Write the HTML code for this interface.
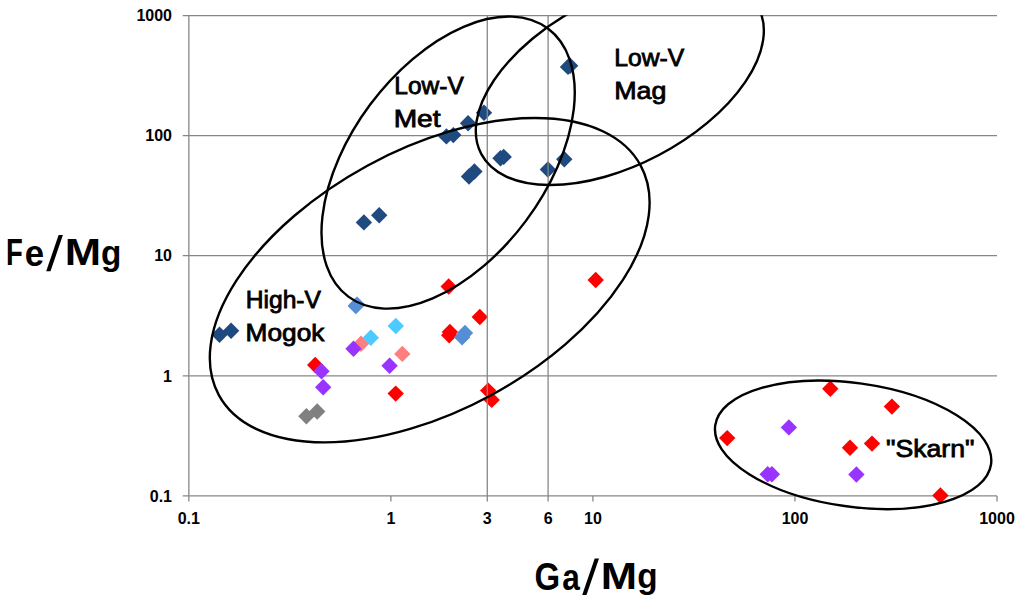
<!DOCTYPE html>
<html><head><meta charset="utf-8"><style>
html,body{margin:0;padding:0;background:#fff;}
body{width:1024px;height:611px;overflow:hidden;}
svg{display:block;}
text{font-family:"Liberation Sans",sans-serif;fill:#000;}
.tk{font-size:16px;font-weight:bold;}
.lb{font-size:23.5px;stroke:#000;stroke-width:0.8px;}
.ax{font-size:36px;font-weight:bold;}
</style></head><body>
<svg width="1024" height="611" viewBox="0 0 1024 611">
<defs><clipPath id="pc"><rect x="0" y="15.2" width="1024" height="600"/></clipPath></defs>
<line x1="182.7" y1="15.7" x2="997.0" y2="15.7" stroke="#878787" stroke-width="1.3"/>
<line x1="182.7" y1="135.7" x2="997.0" y2="135.7" stroke="#878787" stroke-width="1.3"/>
<line x1="182.7" y1="255.7" x2="997.0" y2="255.7" stroke="#878787" stroke-width="1.3"/>
<line x1="182.7" y1="375.8" x2="997.0" y2="375.8" stroke="#878787" stroke-width="1.3"/>
<line x1="182.7" y1="495.9" x2="997.0" y2="495.9" stroke="#878787" stroke-width="1.3"/>
<line x1="188.85" y1="15.7" x2="188.85" y2="501.6" stroke="#878787" stroke-width="1.3"/>
<line x1="390.89" y1="495.9" x2="390.89" y2="501.6" stroke="#878787" stroke-width="1.3"/>
<line x1="592.92" y1="495.9" x2="592.92" y2="501.6" stroke="#878787" stroke-width="1.3"/>
<line x1="794.96" y1="495.9" x2="794.96" y2="501.6" stroke="#878787" stroke-width="1.3"/>
<line x1="997.00" y1="495.9" x2="997.00" y2="501.6" stroke="#878787" stroke-width="1.3"/>
<polygon points="568.00,58.70 576.20,66.90 568.00,75.10 559.80,66.90" fill="#1F4A7F"/>
<polygon points="570.10,57.60 578.30,65.80 570.10,74.00 561.90,65.80" fill="#1F4A7F"/>
<polygon points="484.00,104.60 492.20,112.80 484.00,121.00 475.80,112.80" fill="#1F4A7F"/>
<polygon points="468.10,115.10 476.30,123.30 468.10,131.50 459.90,123.30" fill="#1F4A7F"/>
<polygon points="446.40,128.20 454.60,136.40 446.40,144.60 438.20,136.40" fill="#1F4A7F"/>
<polygon points="453.30,126.90 461.50,135.10 453.30,143.30 445.10,135.10" fill="#1F4A7F"/>
<polygon points="500.50,150.00 508.70,158.20 500.50,166.40 492.30,158.20" fill="#1F4A7F"/>
<polygon points="503.70,148.70 511.90,156.90 503.70,165.10 495.50,156.90" fill="#1F4A7F"/>
<polygon points="469.00,168.30 477.20,176.50 469.00,184.70 460.80,176.50" fill="#1F4A7F"/>
<polygon points="474.40,163.30 482.60,171.50 474.40,179.70 466.20,171.50" fill="#1F4A7F"/>
<polygon points="547.90,161.30 556.10,169.50 547.90,177.70 539.70,169.50" fill="#1F4A7F"/>
<polygon points="564.30,151.10 572.50,159.30 564.30,167.50 556.10,159.30" fill="#1F4A7F"/>
<polygon points="363.90,214.20 372.10,222.40 363.90,230.60 355.70,222.40" fill="#1F4A7F"/>
<polygon points="379.20,207.00 387.40,215.20 379.20,223.40 371.00,215.20" fill="#1F4A7F"/>
<polygon points="219.50,326.60 227.70,334.80 219.50,343.00 211.30,334.80" fill="#1F4A7F"/>
<polygon points="231.10,322.50 239.30,330.70 231.10,338.90 222.90,330.70" fill="#1F4A7F"/>
<polygon points="448.70,278.30 456.90,286.50 448.70,294.70 440.50,286.50" fill="#FF0000"/>
<polygon points="595.70,271.80 603.90,280.00 595.70,288.20 587.50,280.00" fill="#FF0000"/>
<polygon points="479.80,308.80 488.00,317.00 479.80,325.20 471.60,317.00" fill="#FF0000"/>
<polygon points="449.90,323.70 458.10,331.90 449.90,340.10 441.70,331.90" fill="#FF0000"/>
<polygon points="449.20,327.10 457.40,335.30 449.20,343.50 441.00,335.30" fill="#FF0000"/>
<polygon points="315.20,356.80 323.40,365.00 315.20,373.20 307.00,365.00" fill="#FF0000"/>
<polygon points="395.70,385.40 403.90,393.60 395.70,401.80 387.50,393.60" fill="#FF0000"/>
<polygon points="488.20,382.40 496.40,390.60 488.20,398.80 480.00,390.60" fill="#FF0000"/>
<polygon points="491.70,391.70 499.90,399.90 491.70,408.10 483.50,399.90" fill="#FF0000"/>
<polygon points="830.30,380.50 838.50,388.70 830.30,396.90 822.10,388.70" fill="#FF0000"/>
<polygon points="891.90,398.40 900.10,406.60 891.90,414.80 883.70,406.60" fill="#FF0000"/>
<polygon points="727.20,429.90 735.40,438.10 727.20,446.30 719.00,438.10" fill="#FF0000"/>
<polygon points="850.00,439.50 858.20,447.70 850.00,455.90 841.80,447.70" fill="#FF0000"/>
<polygon points="872.00,435.40 880.20,443.60 872.00,451.80 863.80,443.60" fill="#FF0000"/>
<polygon points="940.40,487.30 948.60,495.50 940.40,503.70 932.20,495.50" fill="#FF0000"/>
<polygon points="361.00,335.60 369.20,343.80 361.00,352.00 352.80,343.80" fill="#FF7F7F"/>
<polygon points="402.30,345.70 410.50,353.90 402.30,362.10 394.10,353.90" fill="#FF7F7F"/>
<polygon points="306.40,408.00 314.60,416.20 306.40,424.40 298.20,416.20" fill="#808080"/>
<polygon points="317.20,403.30 325.40,411.50 317.20,419.70 309.00,411.50" fill="#808080"/>
<polygon points="355.80,297.80 364.00,306.00 355.80,314.20 347.60,306.00" fill="#558ED5"/>
<polygon points="357.00,296.40 365.20,304.60 357.00,312.80 348.80,304.60" fill="#558ED5"/>
<polygon points="465.00,324.80 473.20,333.00 465.00,341.20 456.80,333.00" fill="#558ED5"/>
<polygon points="462.10,329.00 470.30,337.20 462.10,345.40 453.90,337.20" fill="#558ED5"/>
<polygon points="395.80,317.80 404.00,326.00 395.80,334.20 387.60,326.00" fill="#4BCBFF"/>
<polygon points="370.80,329.50 379.00,337.70 370.80,345.90 362.60,337.70" fill="#4BCBFF"/>
<polygon points="353.50,340.50 361.70,348.70 353.50,356.90 345.30,348.70" fill="#9933FF"/>
<polygon points="389.60,357.50 397.80,365.70 389.60,373.90 381.40,365.70" fill="#9933FF"/>
<polygon points="321.50,363.00 329.70,371.20 321.50,379.40 313.30,371.20" fill="#9933FF"/>
<polygon points="323.20,379.10 331.40,387.30 323.20,395.50 315.00,387.30" fill="#9933FF"/>
<polygon points="788.90,419.20 797.10,427.40 788.90,435.60 780.70,427.40" fill="#9933FF"/>
<polygon points="767.70,466.10 775.90,474.30 767.70,482.50 759.50,474.30" fill="#9933FF"/>
<polygon points="771.90,466.10 780.10,474.30 771.90,482.50 763.70,474.30" fill="#9933FF"/>
<polygon points="856.40,466.30 864.60,474.50 856.40,482.70 848.20,474.50" fill="#9933FF"/>
<line x1="487.28" y1="15.7" x2="487.28" y2="501.6" stroke="#878787" stroke-width="1.3"/>
<line x1="548.10" y1="15.7" x2="548.10" y2="501.6" stroke="#878787" stroke-width="1.3"/>
<ellipse cx="448.13" cy="162.60" rx="167.12" ry="97.17" transform="rotate(-53.33 448.13 162.60)" fill="none" stroke="#000" stroke-width="2.4"/>
<g clip-path="url(#pc)"><ellipse cx="619.82" cy="80.82" rx="83.92" ry="156.71" transform="rotate(62.19 619.82 80.82)" fill="none" stroke="#000" stroke-width="2.4"/></g>
<ellipse cx="429.71" cy="280.20" rx="130.40" ry="240.12" transform="rotate(61.42 429.71 280.20)" fill="none" stroke="#000" stroke-width="2.4"/>
<ellipse cx="853.14" cy="444.85" rx="139.27" ry="61.81" transform="rotate(8.01 853.14 444.85)" fill="none" stroke="#000" stroke-width="2.4"/>
<text x="172" y="21.4" text-anchor="end" class="tk">1000</text>
<text x="172" y="141.4" text-anchor="end" class="tk">100</text>
<text x="172" y="261.4" text-anchor="end" class="tk">10</text>
<text x="172" y="381.5" text-anchor="end" class="tk">1</text>
<text x="172" y="501.6" text-anchor="end" class="tk">0.1</text>
<text x="188.8" y="524" text-anchor="middle" class="tk">0.1</text>
<text x="390.9" y="524" text-anchor="middle" class="tk">1</text>
<text x="487.3" y="524" text-anchor="middle" class="tk">3</text>
<text x="548.1" y="524" text-anchor="middle" class="tk">6</text>
<text x="592.9" y="524" text-anchor="middle" class="tk">10</text>
<text x="795.0" y="524" text-anchor="middle" class="tk">100</text>
<text x="997.0" y="524" text-anchor="middle" class="tk">1000</text>
<text id="lvmet1" transform="translate(394.34 94.0) scale(1.0424 1)" class="lb">Low-V</text>
<text id="lvmet2" transform="translate(393.70 126.8) scale(1.1974 1)" class="lb">Met</text>
<text id="lvmag1" transform="translate(614.34 66.4) scale(1.0500 1)" class="lb">Low-V</text>
<text id="lvmag2" transform="translate(614.22 99.4) scale(1.1419 1)" class="lb">Mag</text>
<text id="hv1" transform="translate(245.72 307.6) scale(1.0486 1)" class="lb">High-V</text>
<text id="hv2" transform="translate(245.61 340.7) scale(1.1174 1)" class="lb">Mogok</text>
<text id="sk" transform="translate(885.93 456.8) scale(1.1338 1)" class="lb">&quot;Skarn&quot;</text>
<text id="fe_F" transform="translate(5.97 265.40) scale(0.7632 1.0308)" class="ax">F</text>
<text id="fe_e" transform="translate(24.83 265.80) scale(0.9667 1.0450)" class="ax">e</text>
<text id="fe_M" transform="translate(64.78 265.40) scale(1.2115 1.0231)" class="ax">M</text>
<text id="fe_g" transform="translate(101.07 265.06) scale(0.9263 0.9679)" class="ax">g</text>
<text id="ga_G" transform="translate(534.38 589.70) scale(0.9160 1.0577)" class="ax">G</text>
<text id="ga_a" transform="translate(562.32 589.70) scale(0.8789 1.0450)" class="ax">a</text>
<text id="ga_M" transform="translate(600.68 588.80) scale(1.2115 1.0077)" class="ax">M</text>
<text id="ga_g" transform="translate(637.37 588.49) scale(0.9263 0.9643)" class="ax">g</text>
<polygon points="58.6,235.1 62.9,235.1 50.5,271.3 46.2,271.3" fill="#000"/>
<polygon points="594.7,558.5 599.0,558.5 586.5,595.0 582.2,595.0" fill="#000"/>
</svg>
</body></html>
